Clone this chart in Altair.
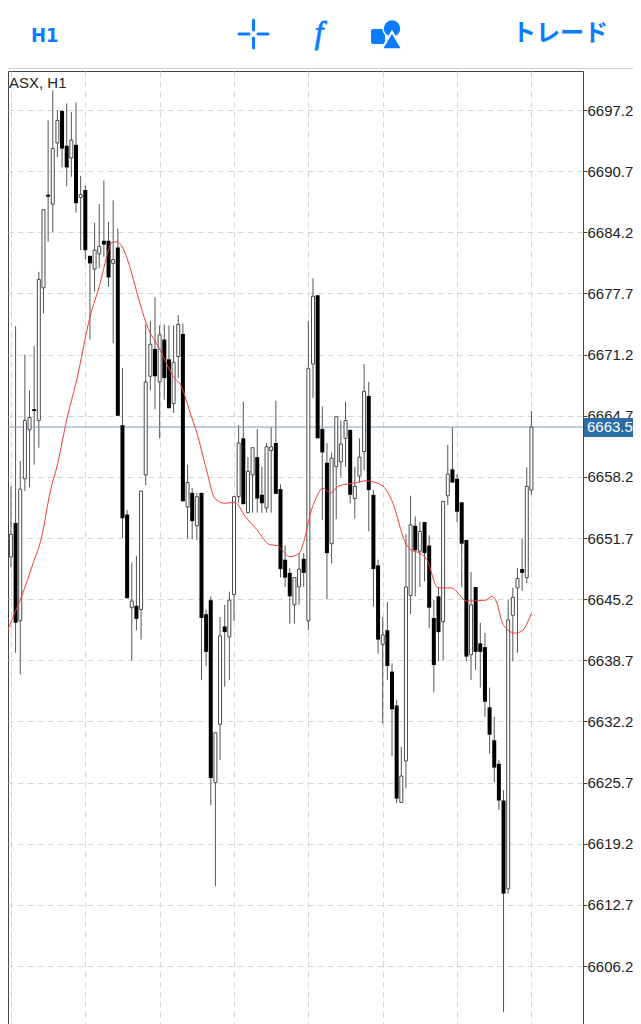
import altair as alt
import pandas as pd

bar_high = [
6655.2,6657.2,6674.2,6659.9,6671.2,6667.4,6672.1,6680.0,6686.6,6696.1,
6699.3,6697.2,6697.2,6697.9,6697.0,6698.0,6690.2,6689.2,6681.7,6685.2,
6687.2,6689.7,6685.3,6687.6,6684.6,6669.8,6654.7,6649.1,6649.8,6656.7,
6674.4,6674.8,6677.3,6674.3,6674.4,6674.3,6674.3,6675.4,6674.5,6659.5,
6657.0,6656.5,6656.5,6644.1,6645.5,6631.0,6643.3,6644.6,6646.0,6656.1,
6663.7,6666.2,6660.3,6661.3,6663.3,6659.3,6661.8,6663.5,6666.3,6657.4,
6650.9,6648.5,6647.5,6650.1,6650.1,6674.8,6679.3,6677.5,6665.7,6661.8,
6660.8,6664.6,6664.2,6666.2,6663.2,6659.3,6662.3,6670.2,6668.3,6656.8,
6649.4,6643.3,6644.9,6638.4,6634.5,6629.5,6652.1,6656.2,6654.0,6653.4,
6653.4,6652.0,6645.1,6646.5,6655.6,6661.6,6663.5,6658.5,6655.5,6651.5,
6648.1,6646.5,6642.7,6641.6,6635.8,6632.7,6628.1,6624.9,6645.1,6646.4,
6648.5,6651.6,6659.2,6665.2]
bar_open = [
6648.2,6649.7,6653.3,6642.9,6658.0,6663.2,6665.4,6664.2,6678.3,6688.2,
6687.2,6693.7,6697.1,6693.4,6692.1,6693.5,6687.9,6688.7,6681.7,6680.3,
6681.9,6683.3,6683.3,6680.9,6682.6,6663.7,6654.2,6644.3,6644.5,6644.1,
6658.4,6668.9,6671.8,6668.3,6672.8,6670.7,6666.0,6671.0,6673.4,6655.0,
6656.5,6653.0,6656.5,6643.6,6645.1,6625.7,6631.9,6642.3,6641.2,6645.7,
6656.1,6662.3,6654.4,6658.4,6660.3,6656.3,6654.9,6661.0,6661.8,6656.9,
6649.4,6648.0,6644.6,6646.5,6649.5,6642.9,6670.2,6677.5,6663.3,6659.7,
6651.1,6659.3,6659.8,6662.3,6663.2,6655.9,6658.3,6660.9,6666.8,6656.3,
6648.8,6640.4,6641.9,6637.5,6633.9,6623.6,6628.0,6645.6,6653.0,6650.3,
6653.4,6650.9,6643.2,6645.5,6642.8,6656.2,6659.0,6658.0,6655.5,6651.5,
6639.3,6646.5,6640.5,6640.1,6633.7,6630.2,6627.7,6623.8,6614.4,6643.5,
6646.4,6648.4,6647.5,6656.8]
bar_close = [
6650.1,6652.1,6642.7,6656.9,6664.2,6664.5,6665.2,6679.2,6686.6,6688.0,
6693.1,6696.1,6693.1,6691.1,6694.0,6687.3,6688.2,6682.3,6680.9,6682.3,
6682.7,6682.9,6679.4,6681.3,6664.7,6653.8,6645.3,6645.0,6643.1,6656.7,
6668.3,6672.3,6668.9,6673.3,6668.7,6665.5,6670.4,6674.4,6655.6,6657.6,
6653.5,6656.1,6643.2,6639.6,6626.2,6631.0,6641.3,6641.7,6645.1,6656.1,
6661.8,6655.3,6658.8,6661.3,6655.9,6655.4,6661.4,6661.4,6656.4,6648.4,
6647.5,6645.5,6647.5,6648.4,6648.0,6669.7,6677.4,6662.3,6660.8,6650.1,
6660.2,6664.6,6661.7,6664.2,6656.3,6657.2,6660.3,6667.3,6656.8,6648.4,
6640.9,6641.4,6638.1,6633.5,6624.0,6626.4,6646.5,6653.1,6650.4,6652.4,
6650.1,6644.3,6638.2,6641.7,6655.6,6658.5,6657.6,6654.5,6651.1,6639.1,
6644.6,6639.6,6639.6,6634.3,6630.8,6627.3,6623.8,6613.9,6643.0,6645.4,
6647.4,6648.0,6657.2,6663.5]
bar_low = [
6645.9,6648.6,6639.5,6637.2,6656.7,6657.1,6659.5,6661.3,6675.6,6683.2,
6684.2,6692.2,6691.1,6689.1,6690.1,6686.3,6682.3,6681.3,6672.8,6677.9,
6680.4,6681.6,6678.4,6672.4,6664.7,6651.7,6645.3,6638.7,6641.9,6640.9,
6657.3,6667.4,6665.4,6662.3,6666.4,6665.5,6665.0,6668.7,6655.6,6651.6,
6651.6,6651.5,6636.6,6638.1,6623.3,6614.7,6628.1,6635.9,6636.6,6642.9,
6655.4,6655.3,6654.4,6654.4,6654.4,6654.4,6654.4,6654.4,6656.4,6647.5,
6646.5,6642.6,6642.6,6644.6,6646.5,6641.9,6666.6,6662.3,6653.6,6645.2,
6649.0,6653.7,6658.2,6659.3,6655.4,6653.8,6657.6,6658.9,6652.4,6644.4,
6639.4,6632.0,6636.6,6628.5,6623.5,6623.6,6625.1,6643.6,6645.5,6646.5,
6647.1,6642.1,6635.3,6638.6,6638.7,6655.2,6657.6,6653.4,6646.5,6638.6,
6636.6,6637.7,6635.8,6632.7,6628.8,6625.7,6622.8,6601.3,6613.9,6638.6,
6639.5,6646.1,6646.9,6656.3]

ma_bar = [-0.6,1.44,3.3,5.75,7.6,9.4,11.1,13,15.15,18,20.2,21.6,22.7,23.8,25.1,26.6,28.1,30.2,33.1,35.9,
37.7,39.5,41,43.1,44.9,47,49.2,51.4,53.9,56.7,58.3,61,63,64.3,65.4,66.8,68.1,69.8,71.4,75.4,
77.6,78.7,81.1,83.2,85.8,87.2,89,90.5,92.9,95.8,99.1,103.2,104.5,105.5,106.9,109.5,110.9,113]
ma_val = [6640.7,6643.3,6645.5,6649.0,6651.8,6656.5,6659.7,6664.3,6668.5,6675.2,6678.8,6681.6,6683.1,6683.2,6682.5,6680.5,6677.8,6674.4,6671.7,6668.9,
6667.8,6665.1,6662.9,6658.9,6655.9,6655.4,6655.5,6654.0,6652.6,6651.0,6650.9,6649.7,6650.1,6651.8,6654.2,6656.1,6657.0,6656.5,6657.2,6657.6,
6657.8,6657.7,6657.2,6655.4,6651.3,6650.4,6650.1,6649.4,6646.4,6646.4,6645.0,6645.1,6645.5,6644.9,6642.5,6641.6,6641.8,6643.7]

price_ticks = [6697.2,6690.7,6684.2,6677.7,6671.2,6664.7,6658.2,6651.7,6645.2,6638.7,6632.2,6625.7,6619.2,6612.7,6606.2]
bar_grid = [1,17,33,49,65,81,97,113]
current_price = 6663.5
symbol_label = "ASX, H1"
timeframe_label = "H1"
trade_label = "トレード"

BLUE = "#0a7cff"
FONT = "Liberation Sans"

df = pd.DataFrame({"bar": range(len(bar_high)), "high": bar_high, "low": bar_low,
                   "open": bar_open, "close": bar_close})
df["top"] = df[["open", "close"]].max(axis=1)
df["bottom"] = df[["open", "close"]].min(axis=1)
up = df[df.close >= df.open]
down = df[df.close < df.open]
ma = pd.DataFrame({"bar": ma_bar, "ma": ma_val})
one = pd.DataFrame({"p": [current_price]})

xs = alt.Scale(domain=[0.366, 124.1], nice=False, zero=False, padding=0)
ys = alt.Scale(domain=[6600.04, 6701.35], nice=False, zero=False)
x_axis = alt.Axis(values=bar_grid, labels=False, ticks=False, domain=False, grid=True, title=None,
                  gridColor="#d6d6d6", gridDash=[6, 4], gridWidth=1)
y_axis = alt.Axis(orient="right", values=price_ticks, format=".1f", grid=True, title=None,
                  gridColor="#d6d6d6", gridDash=[6, 4], gridWidth=1,
                  domain=False, tickColor="#444444", tickSize=4, labelPadding=0,
                  labelFont=FONT, labelFontSize=15, labelColor="#222222")
X = alt.X("bar:Q", scale=xs, axis=x_axis)

def Y(field):
    return alt.Y(field, scale=ys, axis=y_axis)

wicks = alt.Chart(df).mark_rule(color="#555555", strokeWidth=1).encode(x=X, y=Y("low:Q"), y2="high:Q")
price_line = alt.Chart(one).mark_rule(color="#7c9cbc", strokeWidth=1).encode(y=Y("p:Q"))
white = alt.Chart(up).mark_bar(size=3, fill="white", stroke="#4a4a4a", strokeWidth=1).encode(
    x=X, y=Y("bottom:Q"), y2="top:Q")
black = alt.Chart(down).mark_bar(size=4, fill="black", stroke=None).encode(
    x=X, y=Y("bottom:Q"), y2="top:Q")
ma_line = alt.Chart(ma).mark_line(color="#f23c3c", strokeWidth=1, interpolate="monotone").encode(
    x=X, y=Y("ma:Q"), order=alt.Order("bar:Q"))

# pixel helpers: plot origin sits at page (8, 71)
px = lambda v: alt.value(v - 8)
py = lambda v: alt.value(v - 71)
dummy = pd.DataFrame({"a": [0]})

price_box = alt.Chart(dummy).mark_rect(color="#2c6ca8").encode(
    x=px(584), x2=px(633), y=py(418), y2=py(437))
price_text = alt.Chart(one).mark_text(align="left", baseline="middle", font=FONT, fontSize=15, color="white").encode(
    x=px(587), y=Y("p:Q"), text=alt.Text("p:Q", format=".1f"))
symbol = alt.Chart(pd.DataFrame({"t": [symbol_label]})).mark_text(
    align="left", baseline="alphabetic", font=FONT, fontSize=15, color="#222222").encode(
    x=px(9), y=py(88), text="t:N")

divider = alt.Chart(dummy).mark_rule(color="#cfcfcf", strokeWidth=1).encode(
    x=px(0), x2=px(641), y=py(68.5))

def seg(x1, x2, y1, y2):
    return alt.Chart(dummy).mark_rule(color=BLUE, strokeWidth=3, strokeCap="round").encode(
        x=px(x1), x2=px(x2), y=py(y1), y2=py(y2))

cross = seg(239, 249, 34, 34) + seg(258, 268, 34, 34) + seg(253.5, 253.5, 20, 30) + seg(253.5, 253.5, 38, 48)

tf = alt.Chart(pd.DataFrame({"t": [timeframe_label]})).mark_text(
    align="left", baseline="alphabetic", font="DejaVu Sans Condensed", fontWeight="bold", fontSize=20, color=BLUE).encode(
    x=px(31), y=py(42), text="t:N")
trade = alt.Chart(pd.DataFrame({"t": [trade_label]})).mark_text(
    align="left", baseline="middle", font="Noto Sans CJK JP", fontWeight="bold", fontSize=24, color=BLUE).encode(
    x=px(512), y=py(34), text="t:N")
fx = alt.Chart(pd.DataFrame({"t": ["f"]})).mark_text(
    align="center", baseline="alphabetic", font="Liberation Serif", fontStyle="italic", fontSize=31, color=BLUE,
    stroke=BLUE, strokeWidth=0.8).encode(
    x=px(319), y=py(43), text="t:N")
sq = alt.Chart(dummy).mark_rect(color=BLUE, cornerRadius=2).encode(
    x=px(371), x2=px(385), y=py(29), y2=py(44))
circ = alt.Chart(dummy).mark_point(shape="circle", filled=True, size=320, color=BLUE, stroke="white", strokeWidth=1.5, opacity=1).encode(
    x=px(392), y=py(28.5))
tri = alt.Chart(dummy).mark_point(shape="triangle-up", filled=True, size=420, color=BLUE, stroke="white", strokeWidth=2, opacity=1).encode(
    x=px(392), y=py(40.5))

chart = alt.layer(
    wicks, price_line, white, black, ma_line, price_box, price_text, symbol,
    divider, cross, tf, fx, sq, circ, tri, trade
).properties(
    width=575, height=953,
    padding={"left": 0, "top": 63, "right": 50, "bottom": 0},
    autosize=alt.AutoSizeParams(type="none"),
    background="white",
).configure_view(stroke="#444444", strokeWidth=1)

chart.save("out.html", embed_options={"renderer": "svg", "actions": False})
